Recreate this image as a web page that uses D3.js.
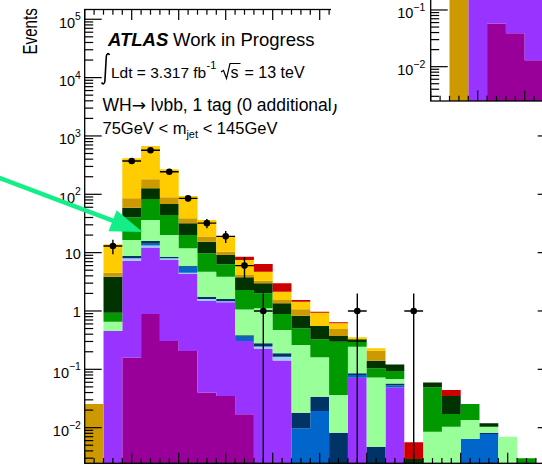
<!DOCTYPE html>
<html>
<head>
<meta charset="utf-8">
<script src="https://cdn.jsdelivr.net/npm/d3@7"></script>
<style>
  body { margin: 0; background: #fff; }
  svg { display: block; }
  text { font-family: "Liberation Sans", Arial, Helvetica, sans-serif; fill: #000; }
</style>
</head>
<body>
<svg id="chart" width="542" height="466"></svg>
<script>
// ---------- data: 20 GeV bins, stacked background components ----------
const binEdges = [0, 20, 40, 60, 80, 100, 120, 140, 160, 180, 200, 220, 240, 260, 280, 300,
                  320, 340, 360, 380, 400, 420, 440, 460, 480, 500];

const magentaComp    = [0, 0, 0.158, 0.89, 0.306, 0.206, 0.040, 0.035, 0.017, 0, 0, 0, 0, 0, 0, 0, 0, 0, 0, 0, 0, 0, 0, 0, 0];
const purpleComp     = [0, 0.454, 7.12, 11.3, 7.17, 4.10, 1.44, 1.37, 0.29, 0.223, 0.141, 0, 0, 0, 0.072, 0, 0.049, 0, 0, 0, 0, 0, 0, 0, 0];
const lightBlueComp  = [0, 0, 0.72, 1.0, 0.52, 0.22, 0.13, 0.07, 0, 0.022, 0.024, 0, 0, 0, 0, 0, 0, 0, 0, 0, 0, 0, 0, 0, 0];
const mediumBlueComp = [0, 0, 0, 1.0, 0, 1.21, 0, 0, 0.053, 0, 0, 0.0098, 0.0193, 0, 0.008, 0, 0.004, 0, 0, 0, 0.0064, 0.0078, 0, 0, 0];
const navyComp       = [0, 0, 0.76, 1.6, 0.52, 0.23, 0.15, 0.13, 0.025, 0.035, 0.023, 0.0083, 0.0147, 0.0082, 0.0056, 0.0047, 0.0044, 0, 0, 0, 0, 0.0004, 0, 0, 0];
const lightGreenComp = [0, 0.20, 7.7, 20.5, 11.6, 5.9, 2.96, 2.26, 0.68, 0.83, 0.285, 0.243, 0.127, 0.028, 0.159, 0.068, 0.011, 0, 0.0085, 0.0104, 0.0071, 0.0022, 0.0070, 0, 0];
const greenComp      = [0, 0.28, 23.8, 46.8, 24.1, 8.2, 5.0, 2.44, 1.22, 0.90, 0.415, 0.244, 0.166, 0.262, 0.049, 0.032, 0.025, 0, 0.041, 0.0068, 0.012, 0, 0, 0.0030, 0];
const darkGreenComp  = [0, 2.94, 18.6, 43.6, 24.0, 11.7, 5.7, 2.8, 1.49, 0.97, 0.467, 0.326, 0.226, 0.075, 0.033, 0.036, 0.027, 0.0029, 0.0097, 0.0177, 0, 0.0015, 0, 0, 0];
const darkGoldComp   = [0.0255, 0.66, 26.5, 54.1, 20.7, 7.0, 3.4, 1.2, 0.36, 0.32, 0.188, 0.24, 0, 0.118, 0, 0.068, 0, 0, 0, 0, 0, 0, 0, 0, 0];
const goldComp       = [0, 9.4, 329, 491, 179, 54.7, 17.5, 9.0, 3.34, 1.42, 0.60, 0.37, 0.382, 0.124, 0.027, 0.021, 0, 0, 0, 0, 0, 0, 0, 0, 0];
const redComp        = [0, 0, 0, 0, 0, 0, 0, 0, 1.04, 1.67, 0.84, 0.10, 0.038, 0.025, 0, 0, 0, 0.0027, 0, 0.0094, 0, 0, 0, 0, 0];

// observed events and their statistical uncertainties
const dataCounts = [0, 13, 372, 568, 244, 85, 32, 19, 6, 1, 0, 0, 0, 0, 1, 0, 0, 1, 0, 0, 0, 0, 0, 0, 0];
const dataErrors = [0, 3.6, 19.3, 23.8, 15.6, 9.2, 5.7, 4.4, 2.4, 1, 0, 0, 0, 0, 1, 0, 0, 1, 0, 0, 0, 0, 0, 0, 0];

// neighbouring panel (partly visible, top right)
const insetEdges       = [0, 20, 40, 60, 80, 100, 120];
const insetMagenta     = [0, 0, 0, 0.058, 0.039, 0.013];
const insetPurple      = [0, 0, 2.5, 4.0, 3.5, 2.8];
const insetDarkGold    = [0, 0.9, 0, 0, 0, 0];

// text
const atlasLabel = "ATLAS";
const statusLabel = "Work in Progress";
const lumiLabel = "Ldt = 3.317 fb";
const lumiExp = "-1";
const energyLabel = "= 13 teV";
const channelA = "WH";
const channelArrow = "\u2192";
const channelB = " l\u03bdbb, 1 tag (0 additional)";
const massLabelA = "75GeV < m";
const massLabelSub = "jet";
const massLabelB = "< 145GeV";
const yTitle = "Events";

// ---------- styling ----------
const compKeys = ["magenta", "purple", "lightBlue", "mediumBlue", "navy", "lightGreen",
                  "green", "darkGreen", "darkGold", "gold", "red"];
const compValues = {
  magenta: magentaComp, purple: purpleComp, lightBlue: lightBlueComp, mediumBlue: mediumBlueComp,
  navy: navyComp, lightGreen: lightGreenComp, green: greenComp, darkGreen: darkGreenComp,
  darkGold: darkGoldComp, gold: goldComp, red: redComp
};
const compColors = {
  magenta: "#990099", purple: "#9933ff", lightBlue: "#99ccff", mediumBlue: "#0066cc",
  navy: "#003366", lightGreen: "#99ff99", green: "#009900", darkGreen: "#003300",
  darkGold: "#cc9900", gold: "#ffcc00", red: "#cc0000"
};

const svg = d3.select("#chart");

// ---------- main panel ----------
const frame = { x0: 84.7, x1: 554.7, yTop: 9.5, yBot: 463.3 };
const x = d3.scaleLinear().domain([0, 500]).range([frame.x0, frame.x1]);
const y = d3.scaleLog().domain([0.00245, 1.47e5]).range([frame.yBot, frame.yTop]);

function drawStack(g, edges, keys, values, xs, ys) {
  const nb = edges.length - 1;
  const rows = d3.range(nb).map(i => {
    const r = { edge: edges[i] };
    keys.forEach(k => { r[k] = values[k][i]; });
    return r;
  });
  const layers = d3.stack().keys(keys)(rows);
  const lo = ys.domain()[0];
  const area = d3.area()
    .curve(d3.curveStepAfter)
    .x(d => xs(d.edge))
    .y0(d => ys(Math.max(d.v0, lo)))
    .y1(d => ys(Math.max(d.v1, lo)));
  layers.forEach(layer => {
    const pts = layer.map((d, i) => ({ edge: edges[i], v0: d[0], v1: d[1] }));
    const last = pts[pts.length - 1];
    pts.push({ edge: edges[nb], v0: last.v0, v1: last.v1 });
    g.append("path")
      .attr("d", area(pts))
      .attr("fill", compColors[layer.key]);
  });
}

svg.append("clipPath").attr("id", "mainClip")
  .append("rect")
  .attr("x", frame.x0).attr("y", frame.yTop)
  .attr("width", frame.x1 - frame.x0).attr("height", frame.yBot - frame.yTop);

const plot = svg.append("g").attr("clip-path", "url(#mainClip)");
drawStack(plot, binEdges, compKeys, compValues, x, y);

// data points with error bars
const yLo = y.domain()[0];
const dataG = plot.append("g");
dataCounts.forEach((c, i) => {
  if (c <= 0) return;
  const cx = x((binEdges[i] + binEdges[i + 1]) / 2);
  const e = dataErrors[i];
  dataG.append("line")
    .attr("x1", cx).attr("x2", cx)
    .attr("y1", y(Math.max(c - e, yLo))).attr("y2", y(c + e))
    .attr("stroke", "#000").attr("stroke-width", 1.4);
  dataG.append("line")
    .attr("x1", x(binEdges[i])).attr("x2", x(binEdges[i + 1]))
    .attr("y1", y(c)).attr("y2", y(c))
    .attr("stroke", "#000").attr("stroke-width", 1.4);
  dataG.append("circle")
    .attr("cx", cx).attr("cy", y(c)).attr("r", 3.3)
    .attr("fill", "#000");
});

// axes: frame and ticks
function logLabel(g, v, xr, yt, size) {
  const k = Math.round(Math.log10(v));
  const t = g.append("text").attr("x", xr).attr("text-anchor", "end")
    .attr("font-size", size);
  if (k === 0 || k === 1) {
    t.attr("y", yt + 6.5).text(k === 0 ? "1" : "10");
  } else {
    t.attr("y", yt + 8.5).text("10");
    t.append("tspan").attr("dy", -7.5).attr("font-size", size * 0.72)
      .text(k < 0 ? "\u2212" + Math.abs(k) : String(k));
  }
}

function drawAxes(g, xs, ys, f, opts) {
  const isMajorY = v => Math.abs(Math.log10(v) - Math.round(Math.log10(v))) < 1e-6;
  const yt = ys.ticks();
  const xt = xs.ticks(50);
  const ln = (x1, y1, x2, y2) => g.append("line")
    .attr("x1", x1).attr("y1", y1).attr("x2", x2).attr("y2", y2)
    .attr("stroke", "#000").attr("stroke-width", 1.2);
  yt.forEach(v => {
    const yy = ys(v);
    const len = isMajorY(v) ? 17 : 8.5;
    ln(f.x0, yy, f.x0 + len, yy);
    if (opts.right) ln(f.x1, yy, f.x1 - len, yy);
    if (isMajorY(v) && yy > 0) logLabel(g, v, f.x0 - opts.labelGap, yy, 14.5);
  });
  xt.forEach(v => {
    const xx = xs(v);
    const len = (v % 50 === 0) ? 10.5 : 5.2;
    ln(xx, f.yBot, xx, f.yBot - len);
    if (opts.top) ln(xx, f.yTop, xx, f.yTop + len);
  });
  g.append("rect")
    .attr("x", f.x0).attr("y", f.yTop)
    .attr("width", f.x1 - f.x0).attr("height", f.yBot - f.yTop)
    .attr("fill", "none").attr("stroke", "#000").attr("stroke-width", 1.3);
}

drawAxes(svg.append("g"), x, y, frame, { right: true, top: true, labelGap: 3.8 });

// y-axis title, condensed along its length
svg.append("text")
  .attr("transform", "translate(37,54.5) rotate(-90) scale(0.72,1)")
  .attr("font-size", 21)
  .text(yTitle);

// ---------- labels ----------
const lab = svg.append("g");
lab.append("text").attr("x", 108).attr("y", 45.5).attr("font-size", 18.5)
  .attr("font-weight", "bold").attr("font-style", "italic").text(atlasLabel);
lab.append("text").attr("x", 173).attr("y", 45.5).attr("font-size", 18.5).text(statusLabel);

// integral sign
lab.append("path")
  .attr("d", "M109.6,55 C108.4,52.7 106.6,53.3 106.3,56.5 L104.9,81 C104.6,84.3 102.8,84.7 101.6,82.5")
  .attr("fill", "none").attr("stroke", "#000").attr("stroke-width", 1.6);
lab.append("text").attr("x", 111).attr("y", 78).attr("font-size", 15.5).text(lumiLabel);
lab.append("text").attr("x", 206.5).attr("y", 68.5).attr("font-size", 11).text(lumiExp);
// square root of s
lab.append("path")
  .attr("d", "M221,72 L223.5,70.5 L226.5,78.5 L230,63.5 L240.5,63.5")
  .attr("fill", "none").attr("stroke", "#000").attr("stroke-width", 1.2);
lab.append("text").attr("x", 230.5).attr("y", 78).attr("font-size", 16).text("s");
lab.append("text").attr("x", 244.5).attr("y", 78).attr("font-size", 16).text(energyLabel);

const ch = lab.append("text").attr("x", 102.5).attr("y", 111).attr("font-size", 17.5);
ch.append("tspan").text(channelA);
ch.append("tspan").attr("font-family", "DejaVu Sans").attr("font-size", 17).text(channelArrow);
ch.append("tspan").text(channelB);

const mt = lab.append("text").attr("x", 102.5).attr("y", 133.5).attr("font-size", 16.5);
mt.append("tspan").text(massLabelA);
mt.append("tspan").attr("font-size", 11).attr("dy", 4.5).text(massLabelSub);
mt.append("tspan").attr("dy", -4.5).text(" " + massLabelB);

// ---------- neighbouring panel ----------
const inset = svg.append("g");
inset.append("rect").attr("x", 331).attr("y", -10).attr("width", 230).attr("height", 114)
  .attr("fill", "#fff");
const iframe = { x0: 430.7, x1: 900.7, yTop: -46.7, yBot: 101 };
const xi = d3.scaleLinear().domain([0, 500]).range([iframe.x0, iframe.x1]);
const yi = d3.scaleLog().domain([0.00248, 1]).range([iframe.yBot, iframe.yTop]);
inset.append("clipPath").attr("id", "insetClip")
  .append("rect")
  .attr("x", iframe.x0).attr("y", iframe.yTop)
  .attr("width", iframe.x1 - iframe.x0).attr("height", iframe.yBot - iframe.yTop);
const iplot = inset.append("g").attr("clip-path", "url(#insetClip)");
drawStack(iplot, insetEdges, ["magenta", "purple", "darkGold"],
  { magenta: insetMagenta, purple: insetPurple, darkGold: insetDarkGold }, xi, yi);
drawAxes(inset.append("g"), xi, yi, iframe, { right: false, top: false, labelGap: 5.5 });

// ---------- annotation arrow ----------
const arrowColor = "#14ee88";
svg.append("line")
  .attr("x1", -2).attr("y1", 177.3).attr("x2", 114).attr("y2", 221.2)
  .attr("stroke", arrowColor).attr("stroke-width", 4.5);
svg.append("polygon")
  .attr("points", "142.5,232 108.5,231.2 116.6,210.2")
  .attr("fill", arrowColor);
</script>
</body>
</html>
